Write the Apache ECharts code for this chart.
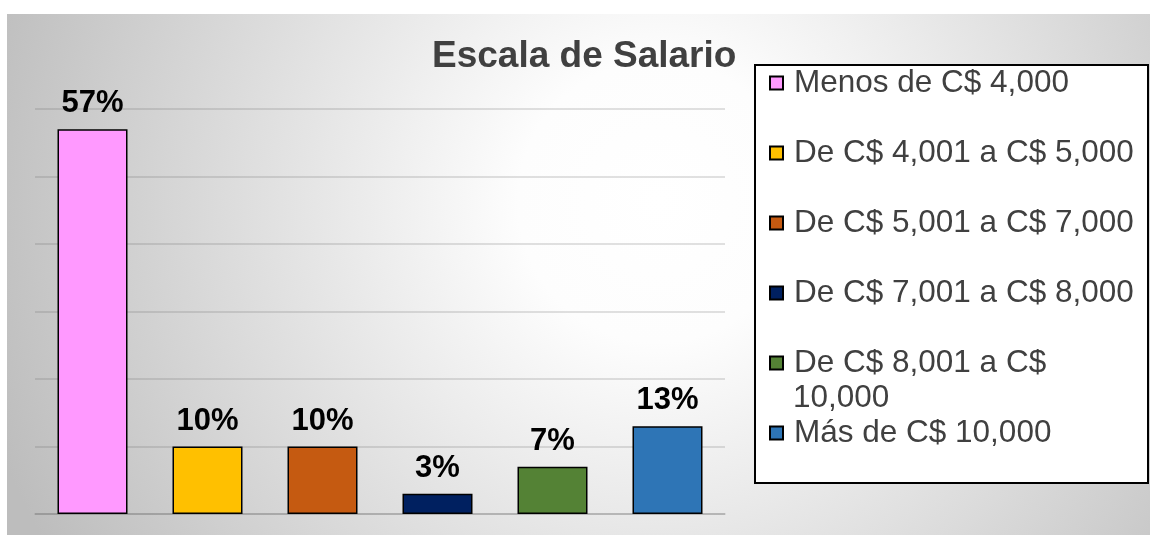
<!DOCTYPE html>
<html lang="es">
<head>
    <meta charset="UTF-8">
    <title>Escala de Salario</title>
    <script src="https://cdn.jsdelivr.net/npm/echarts@6/dist/echarts.min.js"></script>
    <style>
        html, body { margin: 0; padding: 0; background: #fff; }
    </style>
</head>
<body>
    <div id="main" style="width: 1150px; height: 535px"></div>
    <script>
        var categorias = ['Menos de C$ 4,000', 'De C$ 4,001 a C$ 5,000', 'De C$ 5,001 a C$ 7,000',
                          'De C$ 7,001 a C$ 8,000', 'De C$ 8,001 a C$ 10,000', 'Más de C$ 10,000'];
        var porcentajes = [57, 10, 10, 3, 7, 13];
        var colores = ['#ff99ff', '#ffc000', '#c55a11', '#002060', '#548235', '#2e75b6'];

        var mychart = echarts.init(document.getElementById('main'));

        // una serie por rango, apiladas para que cada barra quede centrada en su categoria
        var series = categorias.map(function (nombre, i) {
            var data = categorias.map(function (c, j) { return j === i ? porcentajes[i] : '-'; });
            return {
                name: nombre,
                type: 'bar',
                stack: 'total',
                barWidth: 70,
                data: data,
                itemStyle: { color: colores[i], borderColor: '#000', borderWidth: 1.5 },
                label: {
                    show: true,
                    position: 'top',
                    distance: 10,
                    formatter: '{c}%',
                    color: '#000',
                    fontFamily: 'Liberation Sans',
                    fontWeight: 'bold',
                    fontSize: 31
                }
            };
        });

        var option = {
            animation: false,
            title: {
                text: 'Escala de Salario',
                left: 432,
                top: 38,
                padding: 0,
                textStyle: { fontFamily: 'Liberation Sans', fontWeight: 'bold', fontSize: 37, color: '#404040' }
            },
            graphic: [
                {
                    type: 'rect', z: -10, silent: true,
                    shape: { x: 7, y: 14, width: 1143, height: 521 },
                    style: {
                        fill: new echarts.graphic.RadialGradient(0.57, 0.36, 1.35, [
                            { offset: 0, color: '#ffffff' },
                            { offset: 0.2, color: '#fdfdfd' },
                            { offset: 1, color: '#bdbdbd' }
                        ])
                    }
                },
                {
                    type: 'rect', z: 1, silent: true,
                    shape: { x: 755, y: 65, width: 393, height: 418 },
                    style: { fill: '#fff', stroke: '#000', lineWidth: 2 }
                },
                {
                    type: 'text', z: 10, silent: true,
                    left: 793, top: 382,
                    style: { text: '10,000', fill: '#404040', font: '31.5px "Liberation Sans"' }
                }
            ],
            legend: {
                orient: 'vertical',
                left: 769,
                top: 66,
                padding: 0,
                itemWidth: 13,
                itemHeight: 13,
                itemGap: 36,
                icon: 'rect',
                data: categorias,
                formatter: function (name) {
                    return name === 'De C$ 8,001 a C$ 10,000' ? 'De C$ 8,001 a C$' : name;
                },
                textStyle: {
                    fontFamily: 'Liberation Sans', fontSize: 31.5, color: '#404040',
                    lineHeight: 34, padding: [0, 0, 0, 6]
                }
            },
            grid: { left: 35, right: 425, top: 109, bottom: 21 },
            xAxis: {
                type: 'category',
                data: categorias,
                axisLine: { lineStyle: { color: 'rgba(100,100,100,0.3)', width: 1.5 } },
                axisTick: { show: false },
                axisLabel: { show: false }
            },
            yAxis: {
                type: 'value',
                min: 0,
                max: 60,
                interval: 10,
                axisLabel: { show: false },
                axisLine: { show: false },
                splitLine: { lineStyle: { color: 'rgba(100,100,100,0.25)', width: 1.5 } }
            },
            series: series
        };

        mychart.setOption(option);
    </script>
</body>
</html>
